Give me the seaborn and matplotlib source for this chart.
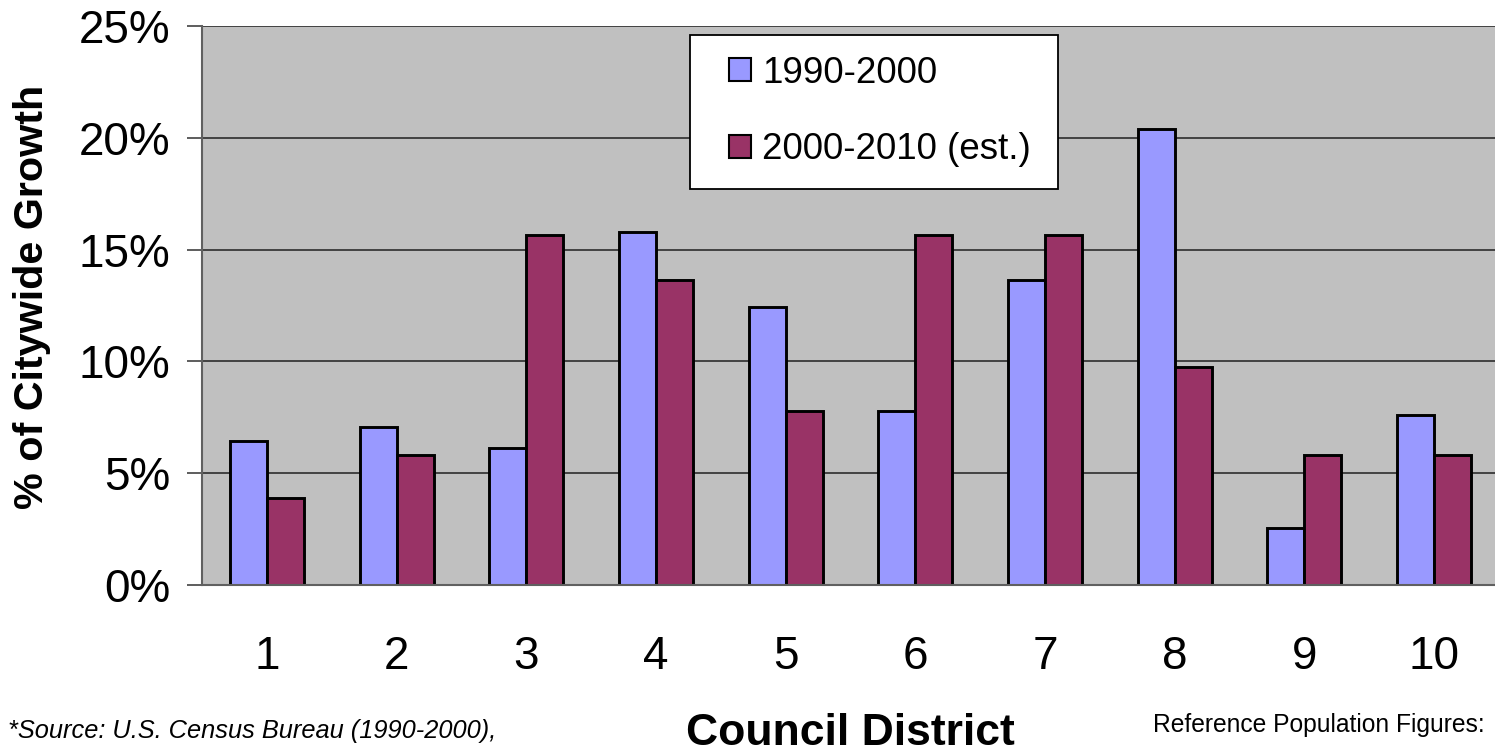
import matplotlib
matplotlib.use("Agg")
import matplotlib.pyplot as plt
import seaborn as sns
import pandas as pd
from matplotlib.patches import Patch, Rectangle
from matplotlib.ticker import FixedLocator, FuncFormatter

districts = ["1", "2", "3", "4", "5", "6", "7", "8", "9", "10"]
growth_1990_2000 = [6.45, 7.08, 6.14, 15.8, 12.45, 7.8, 13.66, 20.4, 2.55, 7.6]
growth_2000_2010 = [3.9, 5.82, 15.64, 13.66, 7.8, 15.64, 15.64, 9.77, 5.82, 5.82]
series_names = ["1990-2000", "2000-2010 (est.)"]
y_ticks = [0, 5, 10, 15, 20, 25]
source_text = "*Source: U.S. Census Bureau (1990-2000),"
ref_text = "Reference Population Figures:"

df = pd.DataFrame({
    "District": districts * 2,
    "Growth": growth_1990_2000 + growth_2000_2010,
    "Period": [series_names[0]] * len(districts) + [series_names[1]] * len(districts),
})

sns.set_theme(style="white")
plt.rcParams["font.family"] = ["Liberation Sans", "DejaVu Sans"]

W, H = 1495, 749
colors = ["#9999FF", "#993366"]
fig = plt.figure(figsize=(W / 100, H / 100), dpi=100)
ax = fig.add_axes([202 / W, 1 - 585 / H, 1297 / W, 559 / H])
ax.set_facecolor("#C0C0C0")

sns.barplot(data=df, x="District", y="Growth", hue="Period", order=districts,
            hue_order=series_names, palette=colors, width=0.57, gap=0,
            edgecolor="black", linewidth=2.1, saturation=1, ax=ax, legend=False,
            zorder=3)

ax.set_xlim(-0.5, len(districts) - 0.5)
ax.set_ylim(0, 25)
ax.yaxis.set_major_locator(FixedLocator(y_ticks))
ax.yaxis.set_major_formatter(FuncFormatter(lambda v, p: f"{v:.0f}%"))
ax.grid(axis="y", color="#202020", linewidth=1.1, zorder=0)
ax.set_axisbelow(True)

for s in ["top", "right"]:
    ax.spines[s].set_visible(False)
for s in ["left", "bottom"]:
    ax.spines[s].set_color("#606060")
    ax.spines[s].set_linewidth(1.5)
    ax.spines[s].set_zorder(4)

ax.tick_params(axis="x", which="major", length=0, pad=36, labelsize=33, labelcolor="black")
ax.set_xticks([i - 0.5 for i in range(len(districts) + 1)], minor=True)
ax.tick_params(axis="x", which="minor", length=11, width=1.3, color="#505050", direction="out")
ax.tick_params(axis="y", which="major", length=11, width=1.3, color="#505050", direction="out",
               pad=12, labelsize=33, labelcolor="black", left=True)

ax.set_xlabel("Council District", fontsize=32, fontweight="bold", color="black")
ax.xaxis.label.set_va("baseline")
ax.xaxis.set_label_coords(0.5, (585 - 745) / 559)
ax.set_ylabel("% of Citywide Growth", fontsize=29.7, fontweight="bold", color="black")
ax.yaxis.set_label_coords(-0.1165, 0.515)

# legend frame
ax.add_patch(Rectangle(((690 - 202) / 1297, (585 - 189) / 559), 368 / 1297, 154 / 559,
                       transform=ax.transAxes, facecolor="white", edgecolor="black",
                       linewidth=1.3, zorder=5, clip_on=False))
handles = [Patch(facecolor=c, edgecolor="black", linewidth=1.5, label=n)
           for c, n in zip(colors, series_names)]
leg = ax.legend(handles=handles, loc="center left",
                bbox_to_anchor=((729 - 202) / 1297, (585 - 111.5) / 559),
                fontsize=26.5, frameon=False, labelcolor="black",
                handlelength=0.6, handleheight=0.6,
                handletextpad=0.3, labelspacing=1.13, borderpad=0,
                borderaxespad=0)
leg.set_zorder(6)

fig.text(8 / W, 1 - 738 / H, source_text, fontsize=18.3, style="italic",
         ha="left", va="baseline", color="black")
fig.text(1153 / W, 1 - 732 / H, ref_text, fontsize=17.7,
         ha="left", va="baseline", color="black")

fig.savefig("out.png", dpi=100)
